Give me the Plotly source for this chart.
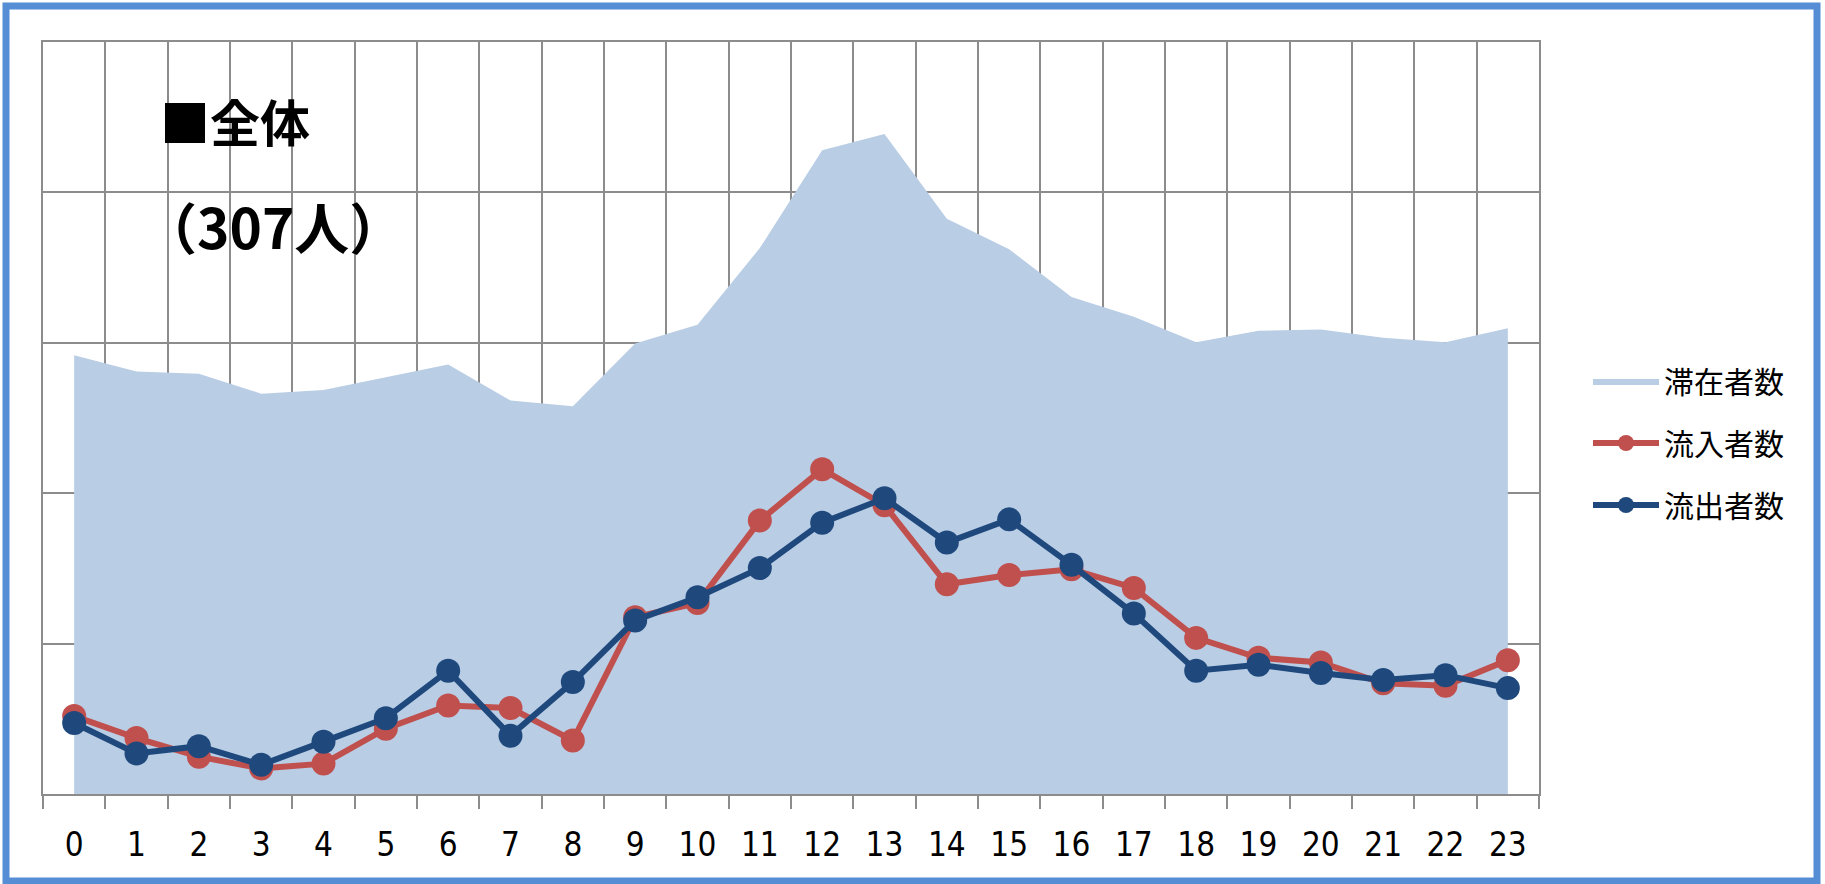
import plotly.graph_objects as go

hours = [str(h) for h in range(24)]
stay = [145.9, 140.5, 139.7, 133.1, 134.3, 138.5, 142.8, 130.8, 128.9, 149.8, 156.0, 181.5,
        214.0, 219.4, 191.2, 181.1, 165.2, 158.7, 150.2, 154.0, 154.4, 151.7, 150.2, 154.8]
inflow = [25.9, 18.6, 12.4, 8.5, 10.1, 21.7, 29.4, 28.6, 17.8, 58.8, 63.5, 90.9,
          108.0, 96.0, 69.7, 72.8, 74.7, 68.5, 51.9, 45.3, 43.7, 36.8, 36.0, 44.5]
outflow = [23.6, 13.5, 15.9, 9.7, 17.4, 25.2, 41.0, 19.4, 37.2, 57.7, 65.4, 75.1,
           90.2, 98.3, 83.6, 91.3, 76.2, 60.0, 41.0, 43.0, 40.2, 37.9, 39.5, 35.2]
series_names = ["滞在者数", "流入者数", "流出者数"]
title_text = "■全体"
count_text = "（307人）"

W, H = 1825, 884
L, R, T, B = 43, 1539, 42, 794
GRID = "#8C8C8C"

fig = go.Figure()
fig.add_trace(go.Scatter(x=hours, y=stay, name=series_names[0], mode="lines",
                         fill="tozeroy", fillcolor="#B9CDE5", line=dict(width=0, color="#B9CDE5"),
                         legendgroup="a"))
fig.add_trace(go.Scatter(x=hours, y=inflow, name=series_names[1], mode="lines+markers",
                         line=dict(color="#C0504D", width=6), marker=dict(size=24, color="#C0504D"),
                         legendgroup="b"))
fig.add_trace(go.Scatter(x=hours, y=outflow, name=series_names[2], mode="lines+markers",
                         line=dict(color="#1F497D", width=6), marker=dict(size=24, color="#1F497D"),
                         legendgroup="c"))

def px_x(px):
    return (px - L) / (R - L)

def px_y(py):
    return 1 - (py - T) / (B - T)

fig.update_layout(
    width=W, height=H,
    margin=dict(l=L, r=W - R, t=T, b=H - B, pad=0),
    paper_bgcolor="white", plot_bgcolor="white",
    font=dict(family="DejaVu Sans Condensed, DejaVu Sans, sans-serif", color="black"),
    showlegend=True,
    legend=dict(x=px_x(1588), xanchor="left", y=px_y(443), yanchor="middle",
                font=dict(size=30, family="Noto Sans CJK JP"), traceorder="grouped",
                tracegroupgap=20, itemwidth=66, bgcolor="rgba(0,0,0,0)"),
    xaxis=dict(type="category", range=[-0.5, 23.5], tickson="boundaries",
               showgrid=True, gridcolor=GRID, gridwidth=2,
               showline=True, linecolor=GRID, linewidth=2, mirror=True,
               ticks="outside", ticklen=13, tickwidth=2, tickcolor=GRID,
               tickfont=dict(size=33, family="DejaVu Sans Condensed, DejaVu Sans"),
               ticklabelstandoff=20, zeroline=False, fixedrange=True),
    yaxis=dict(range=[0, 250], dtick=50, showgrid=True, gridcolor=GRID, gridwidth=2,
               showline=True, linecolor=GRID, linewidth=2, mirror=True,
               showticklabels=False, ticks="", zeroline=False, fixedrange=True),
)

fig.add_annotation(text="<b>" + title_text + "</b>", xref="paper", yref="paper",
                   x=px_x(158), y=px_y(120), xanchor="left", yanchor="middle", showarrow=False,
                   font=dict(size=50, family="Noto Sans CJK JP", color="black"))
fig.add_annotation(text="<b>" + count_text + "</b>", xref="paper", yref="paper",
                   x=px_x(140), y=px_y(225), xanchor="left", yanchor="middle", showarrow=False,
                   font=dict(size=55, family="Noto Sans CJK JP", color="black"))

fig.add_shape(type="rect", xref="paper", yref="paper",
              x0=px_x(6), x1=px_x(1817), y0=px_y(881), y1=px_y(6),
              line=dict(color="#558ED5", width=7), fillcolor="rgba(0,0,0,0)", layer="above")

fig.write_html("out.html", config={"displayModeBar": False},
               post_script="document.body.style.margin='0';document.body.style.overflow='hidden';")
